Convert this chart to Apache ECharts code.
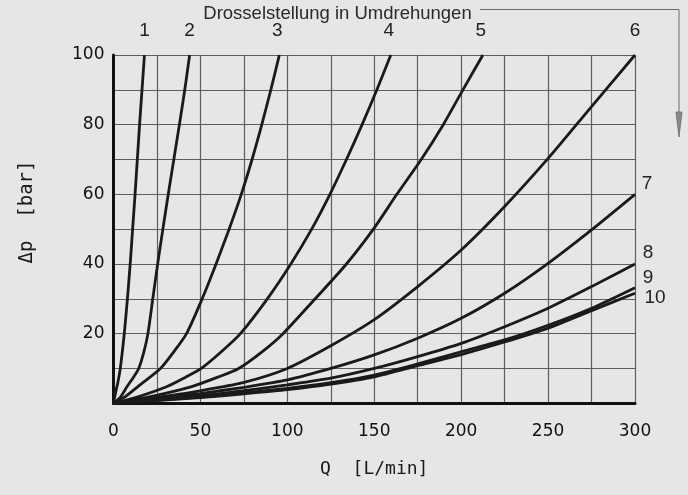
<!DOCTYPE html>
<html>
<head>
<meta charset="utf-8">
<style>
  html, body { margin: 0; padding: 0; background: #e5e6e8; }
  #chart { width: 688px; height: 495px; }
</style>
<script src="https://cdn.jsdelivr.net/npm/echarts@6/dist/echarts.min.js"></script>
</head>
<body>
<div id="chart"></div>
<script>
// throttle settings (turns) and their curves, [Q L/min, dp bar]
const settings = ["1", "2", "3", "4", "5", "6", "7", "8", "9", "10"];

const curve1 = [[0, 0], [1.6, 4], [2.5, 6], [3.9, 10], [6.2, 20], [8, 30], [9.6, 40], [11, 50], [12.4, 60], [13.7, 70], [15, 80], [16.4, 90], [17.8, 100]];
const curve2 = [[0, 0], [4, 1.8], [7.8, 4.8], [11.5, 7.5], [14.5, 10], [17.6, 15], [19.8, 20], [22.6, 30], [25.4, 40], [28.4, 50], [31.5, 60], [34.7, 70], [37.9, 80], [41, 90], [43.8, 100]];
const curve3 = [[0, 0], [7, 2], [14.5, 5], [27, 10], [35, 15], [42, 20], [51, 30], [59, 40], [66.5, 50], [73.5, 60], [79.7, 70], [85.3, 80], [90.5, 90], [95.4, 100]];
const curve4 = [[0, 0], [15, 2], [30.8, 4.8], [41.5, 7.5], [50.5, 10], [62.5, 15], [73, 20], [88.5, 30], [102, 40], [114, 50], [124.5, 60], [134, 70], [143, 80], [151.5, 90], [159.5, 100]];
const curve5 = [[0, 0], [22, 2], [45, 4.8], [60, 7.5], [72, 10], [86, 15], [97.5, 20], [116, 30], [134, 40], [149.5, 50], [163, 60], [177, 70], [189.7, 80], [201, 90], [212.5, 100]];
const curve6 = [[0, 0], [25, 1.7], [50, 3.6], [75, 6], [100, 10], [125, 16.5], [150, 24], [175, 33.5], [200, 44], [225, 56.5], [250, 70.3], [275, 85.2], [300, 100]];
const curve7 = [[0, 0], [25, 1.3], [50, 2.8], [75, 4.6], [100, 6.7], [125, 10], [150, 13.9], [175, 18.7], [200, 24.4], [225, 31.6], [250, 40.2], [275, 49.8], [300, 60]];
const curve8 = [[0, 0], [25, 1.1], [50, 2.2], [75, 3.6], [100, 5.3], [125, 7.2], [150, 10], [175, 13.4], [200, 17.2], [225, 22], [250, 27.3], [275, 33.5], [300, 40]];
const curve9 = [[0, 0], [25, 0.9], [50, 1.8], [75, 3], [100, 4.3], [125, 5.9], [150, 8.1], [175, 11.3], [200, 14.8], [225, 18.2], [250, 22.4], [275, 27.3], [300, 33.2]];
const curve10 = [[0, 0], [25, 0.8], [50, 1.6], [75, 2.7], [100, 3.9], [125, 5.5], [150, 7.6], [175, 10.8], [200, 14], [225, 17.6], [250, 21.6], [275, 26.6], [300, 31.6]];

const curves = [curve1, curve2, curve3, curve4, curve5, curve6, curve7, curve8, curve9, curve10];

// where each setting number sits relative to its curve's end, px
const labelOffsets = [[0, -24], [0, -24], [-2, -24], [-2, -24], [-2, -24], [0, -24], [12, -11], [13, -11], [13, -10], [20, 5]];

const chart = echarts.init(document.getElementById("chart"));

const series = curves.map(function (data, i) {
  return {
    name: settings[i],
    type: "line",
    data: data,
    smooth: 0.25,
    showSymbol: false,
    silent: true,
    lineStyle: { color: "#1a1a1a", width: 2.8 },
    markPoint: {
      symbol: "circle",
      symbolSize: 0,
      silent: true,
      data: [{ coord: data[data.length - 1], value: settings[i] }],
      label: {
        show: true,
        position: "inside",
        offset: labelOffsets[i],
        formatter: settings[i],
        color: "#222",
        fontFamily: "Liberation Sans",
        fontSize: 19,
      },
    },
  };
});

const option = {
  backgroundColor: "#e5e6e8",
  animation: false,
  grid: { left: 113.5, right: 53, top: 55, bottom: 91.7 },
  xAxis: {
    type: "value",
    min: 0,
    max: 300,
    interval: 25,
    name: "Q  [L/min]",
    nameLocation: "middle",
    nameGap: 57,
    nameTextStyle: { fontFamily: "DejaVu Sans Mono", fontSize: 18, color: "#1a1a1a" },
    axisLine: { show: true, lineStyle: { color: "#111", width: 3 } },
    axisTick: { show: false },
    axisLabel: {
      margin: 20,
      fontFamily: "DejaVu Sans",
      fontSize: 17,
      color: "#111",
      formatter: function (v) {
        return v % 50 === 0 ? String(v) : "";
      },
    },
    splitLine: { show: true, lineStyle: { color: "#5e5e5e", width: 1.2 } },
  },
  yAxis: {
    type: "value",
    min: 0,
    max: 100,
    interval: 10,
    axisLine: { show: true, lineStyle: { color: "#111", width: 3 } },
    axisTick: { show: false },
    axisLabel: {
      margin: 9,
      fontFamily: "DejaVu Sans",
      fontSize: 17,
      color: "#111",
      formatter: function (v) {
        return v % 20 === 0 && v > 0 ? String(v) : "";
      },
    },
    splitLine: { show: true, lineStyle: { color: "#5e5e5e", width: 1.2 } },
  },
  graphic: [
    {
      type: "text",
      x: 27,
      y: 212,
      rotation: Math.PI / 2,
      style: {
        text: "Δp  [bar]",
        fontFamily: "DejaVu Sans Mono",
        fontSize: 19,
        fill: "#1a1a1a",
        align: "center",
        verticalAlign: "middle",
      },
    },
    {
      type: "text",
      x: 337.5,
      y: 14,
      style: {
        text: "Drosselstellung in Umdrehungen",
        fontFamily: "Liberation Sans",
        fontSize: 18.5,
        fill: "#2a2a2a",
        align: "center",
        verticalAlign: "middle",
      },
    },
    {
      type: "polyline",
      shape: { points: [[480, 9.5], [679, 9.5], [679, 114]] },
      style: { stroke: "#6a6a6a", lineWidth: 1, fill: null },
    },
    {
      type: "polygon",
      shape: { points: [[676, 112], [682, 112], [679, 137]] },
      style: { fill: "#8a8a8a", stroke: "#6a6a6a", lineWidth: 0.8 },
    },
  ],
  series: series,
};

chart.setOption(option);
</script>
</body>
</html>
